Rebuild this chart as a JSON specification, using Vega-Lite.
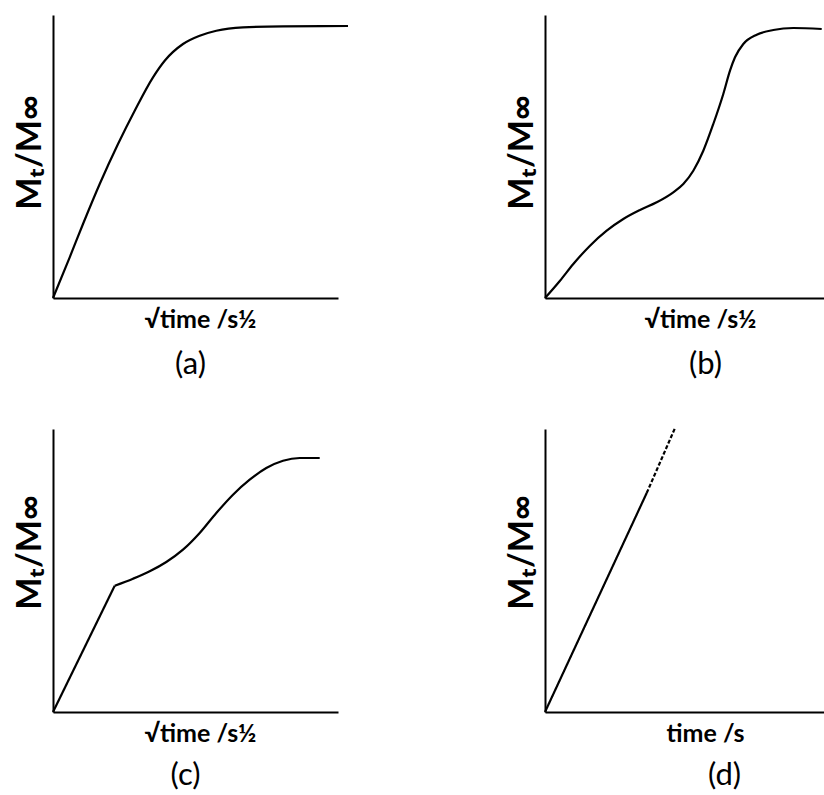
{
  "$schema": "https://vega.github.io/schema/vega-lite/v6.json",
  "padding": {"left": 13, "top": 15, "right": 0, "bottom": 0},
  "background": "white",
  "config": {
    "view": {"stroke": null},
    "axis": {"domainColor": "black", "domainWidth": 2, "ticks": false, "labels": false, "grid": false, "titleColor": "black"},
    "title": {"color": "black", "font": "Lato, Open Sans, DejaVu Sans", "fontWeight": "normal", "fontSize": 31}
  },
  "datasets": {
    "a": [
      {"x": 0, "y": 0}, {"x": 16.7, "y": 40.7}, {"x": 30, "y": 74}, {"x": 46.7, "y": 114}, {"x": 65, "y": 154},
      {"x": 81.7, "y": 187.3}, {"x": 100, "y": 220.7}, {"x": 111.7, "y": 237.3}, {"x": 130, "y": 254},
      {"x": 146.7, "y": 262.3}, {"x": 163.3, "y": 267.3}, {"x": 190, "y": 270.7}, {"x": 230, "y": 271.7}, {"x": 295, "y": 272}
    ],
    "b": [
      {"x": 0, "y": 0}, {"x": 15, "y": 17.3}, {"x": 28.3, "y": 34}, {"x": 45, "y": 52.3}, {"x": 61.7, "y": 67.3},
      {"x": 78.3, "y": 79}, {"x": 95, "y": 88}, {"x": 111.7, "y": 95.7}, {"x": 128.3, "y": 105.7}, {"x": 138.3, "y": 114},
      {"x": 148.3, "y": 127.3}, {"x": 158.3, "y": 147.3}, {"x": 168.3, "y": 174}, {"x": 178.3, "y": 204}, {"x": 185, "y": 227.3},
      {"x": 190, "y": 240.7}, {"x": 198.3, "y": 254}, {"x": 211.7, "y": 263.3}, {"x": 228.3, "y": 268}, {"x": 248.3, "y": 270}, {"x": 276.7, "y": 269}
    ],
    "c": [
      {"seg": 1, "x": 0, "y": 0}, {"seg": 1, "x": 61.7, "y": 126.3},
      {"seg": 2, "x": 61.7, "y": 126.3}, {"seg": 2, "x": 80, "y": 133.3}, {"seg": 2, "x": 96.7, "y": 140.7}, {"seg": 2, "x": 113.3, "y": 150},
      {"seg": 2, "x": 130, "y": 162.3}, {"seg": 2, "x": 146.7, "y": 179}, {"seg": 2, "x": 163.3, "y": 199}, {"seg": 2, "x": 180, "y": 217.3},
      {"seg": 2, "x": 196.7, "y": 232.3}, {"seg": 2, "x": 213.3, "y": 244}, {"seg": 2, "x": 230, "y": 251.3}, {"seg": 2, "x": 246.7, "y": 254}, {"seg": 2, "x": 266.7, "y": 254}
    ],
    "d": [
      {"style": "solid", "x": 0, "y": 0}, {"style": "solid", "x": 101.7, "y": 219},
      {"style": "dashed", "x": 101.7, "y": 219}, {"style": "dashed", "x": 130, "y": 284}
    ]
  },
  "columns": 2,
  "bounds": "flush",
  "spacing": {"row": 131, "column": 207},
  "concat": [
    {
      "width": 285, "height": 283,
      "data": {"name": "a"},
      "title": {"text": "(a)", "orient": "bottom", "dx": -5, "offset": 18},
      "mark": {"type": "line", "interpolate": "monotone", "color": "black", "strokeWidth": 2.2, "clip": false},
      "encoding": {
        "x": {"field": "x", "type": "quantitative", "scale": {"domain": [0, 285], "nice": false},
          "axis": {"title": "√time /s½", "titleFont": "Lato, Open Sans, DejaVu Sans", "titleFontSize": 25, "titleFontWeight": "bold", "titlePadding": 9, "titleX": 147}},
        "y": {"field": "y", "type": "quantitative", "scale": {"domain": [0, 283], "nice": false},
          "axis": {"title": "Mₜ/M∞", "titleFont": "Lato, Open Sans, DejaVu Sans", "titleFontSize": 34, "titleFontWeight": "bold", "titlePadding": 6, "titleY": 137}}
      }
    },
    {
      "width": 279, "height": 283,
      "data": {"name": "b"},
      "title": {"text": "(b)", "orient": "bottom", "dx": 21, "offset": 18},
      "mark": {"type": "line", "interpolate": "monotone", "color": "black", "strokeWidth": 2.2, "clip": false},
      "encoding": {
        "x": {"field": "x", "type": "quantitative", "scale": {"domain": [0, 279], "nice": false},
          "axis": {"title": "√time /s½", "titleFont": "Lato, Open Sans, DejaVu Sans", "titleFontSize": 25, "titleFontWeight": "bold", "titlePadding": 9, "titleX": 155}},
        "y": {"field": "y", "type": "quantitative", "scale": {"domain": [0, 283], "nice": false},
          "axis": {"title": "Mₜ/M∞", "titleFont": "Lato, Open Sans, DejaVu Sans", "titleFontSize": 34, "titleFontWeight": "bold", "titlePadding": 6, "titleY": 137}}
      }
    },
    {
      "width": 285, "height": 283,
      "data": {"name": "c"},
      "title": {"text": "(c)", "orient": "bottom", "dx": -10, "offset": 15},
      "mark": {"type": "line", "interpolate": "monotone", "color": "black", "strokeWidth": 2.2, "clip": false},
      "encoding": {
        "detail": {"field": "seg", "type": "nominal"},
        "x": {"field": "x", "type": "quantitative", "scale": {"domain": [0, 285], "nice": false},
          "axis": {"title": "√time /s½", "titleFont": "Lato, Open Sans, DejaVu Sans", "titleFontSize": 25, "titleFontWeight": "bold", "titlePadding": 9, "titleX": 147}},
        "y": {"field": "y", "type": "quantitative", "scale": {"domain": [0, 283], "nice": false},
          "axis": {"title": "Mₜ/M∞", "titleFont": "Lato, Open Sans, DejaVu Sans", "titleFontSize": 34, "titleFontWeight": "bold", "titlePadding": 6, "titleY": 123}}
      }
    },
    {
      "width": 279, "height": 283,
      "data": {"name": "d"},
      "title": {"text": "(d)", "orient": "bottom", "dx": 40, "offset": 15},
      "mark": {"type": "line", "color": "black", "strokeWidth": 2.2, "clip": false},
      "encoding": {
        "strokeDash": {"field": "style", "type": "nominal", "scale": {"domain": ["solid", "dashed"], "range": [[1, 0], [4, 2]]}, "legend": null},
        "x": {"field": "x", "type": "quantitative", "scale": {"domain": [0, 279], "nice": false},
          "axis": {"title": "time /s", "titleFont": "Lato, Open Sans, DejaVu Sans", "titleFontSize": 25, "titleFontWeight": "bold", "titlePadding": 9, "titleX": 160}},
        "y": {"field": "y", "type": "quantitative", "scale": {"domain": [0, 283], "nice": false},
          "axis": {"title": "Mₜ/M∞", "titleFont": "Lato, Open Sans, DejaVu Sans", "titleFontSize": 34, "titleFontWeight": "bold", "titlePadding": 6, "titleY": 123}}
      }
    }
  ]
}
